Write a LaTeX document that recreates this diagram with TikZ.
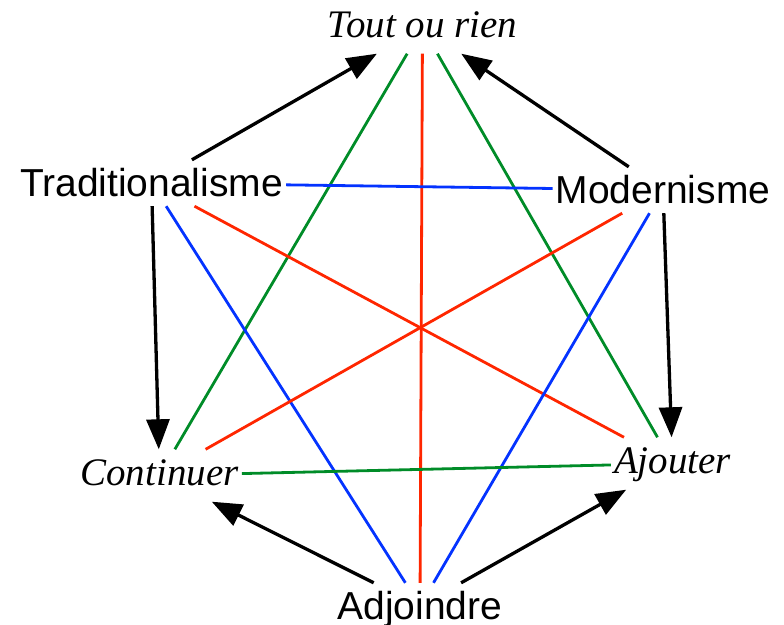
\documentclass[tikz,border=0pt]{standalone}
\usepackage{fontspec}
\setmainfont{Liberation Serif}
\setsansfont{Liberation Sans}
\usetikzlibrary{arrows.meta}
\definecolor{gr}{RGB}{0,140,40}
\definecolor{rd}{RGB}{255,38,0}
\definecolor{bl}{RGB}{4,51,255}
\begin{document}
\begin{tikzpicture}[x=1pt,y=-1pt,
  sansnode/.style={font=\sffamily\fontsize{39}{44}\selectfont, text height=33pt, text depth=7pt, inner xsep=3pt, inner ysep=3pt},
  serifnode/.style={font=\itshape\fontsize{39}{44}\selectfont, text height=32.5pt, text depth=13.5pt, inner xsep=3pt, inner ysep=3pt},
  arr/.style={line width=3.3pt, -{Triangle[length=30pt,width=23pt]}},
  link/.style={line width=2.8pt}]
\useasboundingbox (0,0) rectangle (784,624);
\node[serifnode] (tout) at (422.5,27.5) {Tout ou rien};
\node[sansnode] (trad) at (151.5,183) {Traditionalisme};
\node[sansnode] (mod) at (663,190) {Modernisme};
\node[serifnode] (cont) at (159.5,475.5) {Continuer};
\node[serifnode] (ajou) at (672.5,463.5) {Ajouter};
\node[sansnode] (adj) at (420,606) {Adjoindre};
% colored links
\draw[link,gr] (tout) -- (cont);
\draw[link,rd] (tout) -- (adj);
\draw[link,gr] (tout) -- (ajou);
\draw[link,bl] (trad) -- (mod);
\draw[link,bl] (trad) -- (adj);
\draw[link,rd] (trad) -- (ajou);
\draw[link,rd] (mod) -- (cont);
\draw[link,bl] (mod) -- (adj);
\draw[link,gr] (cont) -- (ajou);
% black arrows
\draw[arr] (trad) -- (tout);
\draw[arr] (mod) -- (tout);
\draw[arr] (trad) -- (cont);
\draw[arr] (mod) -- (ajou);
\draw[arr] (adj) -- (cont);
\draw[arr] (adj) -- (ajou);
\end{tikzpicture}
\end{document}
